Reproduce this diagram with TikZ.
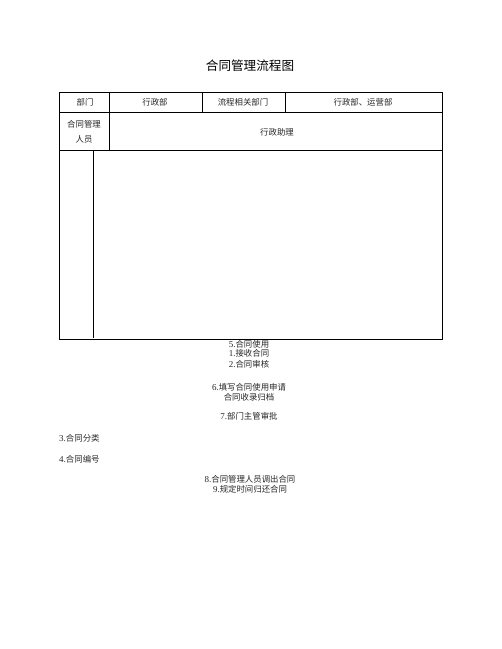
\documentclass[tikz,border=0pt]{standalone}
\usepackage{fontspec}
\setmainfont{Liberation Serif}
\newfontfamily\cjk{Noto Sans CJK SC}
\newcommand\numpart[1]{{\rmfamily\fontsize{9}{10}\selectfont #1}}
\begin{document}
\begin{tikzpicture}[x=1pt,y=-1pt,
  frame/.style={line width=0.8pt},
  txt/.style={font=\cjk\fontsize{8.4}{10}\selectfont, inner sep=0pt, text=black!85},
  titletxt/.style={font=\cjk\fontsize{12.6}{15}\selectfont, inner sep=0pt}]
\useasboundingbox (0,0) rectangle (502,649);
% table frame
\draw[frame] (59,92) rectangle (442,339);
\draw[frame] (59,112) -- (442,112);
\draw[frame] (59,150) -- (442,150);
\draw[frame] (109,92) -- (109,150);
\draw[frame] (202,92) -- (202,112);
\draw[frame] (285,92) -- (285,112);
\draw[frame] (93,150) -- (93,338);
% title
\node[titletxt] (title) at (250,66) {合同管理流程图};
% header row
\node[txt] (h1) at (85,102) {部门};
\node[txt] (h2) at (155,102) {行政部};
\node[txt] (h3) at (243,102) {流程相关部门};
\node[txt] (h4) at (363,102) {行政部、运营部};
\node[txt] (m1) at (84,124) {合同管理};
\node[txt] (m2) at (84,139) {人员};
\node[txt] (m3) at (277,132) {行政助理};
% steps
\node[txt] (s5) at (249,344) {\numpart{5.}合同使用};
\node[txt] (s1) at (249,353.5) {\numpart{1.}接收合同};
\node[txt] (s2) at (249,364.5) {\numpart{2.}合同审核};
\node[txt] (s6) at (249,387) {\numpart{6.}填写合同使用申请};
\node[txt] (s6b) at (249,397) {合同收录归档};
\node[txt] (s7) at (249,416) {\numpart{7.}部门主管审批};
\node[txt,anchor=west] (s3) at (59,438) {\numpart{3.}合同分类};
\node[txt,anchor=west] (s4) at (59,459) {\numpart{4.}合同编号};
\node[txt] (s8) at (250,479) {\numpart{8.}合同管理人员调出合同};
\node[txt] (s9) at (250,489) {\numpart{9.}规定时间归还合同};
\end{tikzpicture}
\end{document}
